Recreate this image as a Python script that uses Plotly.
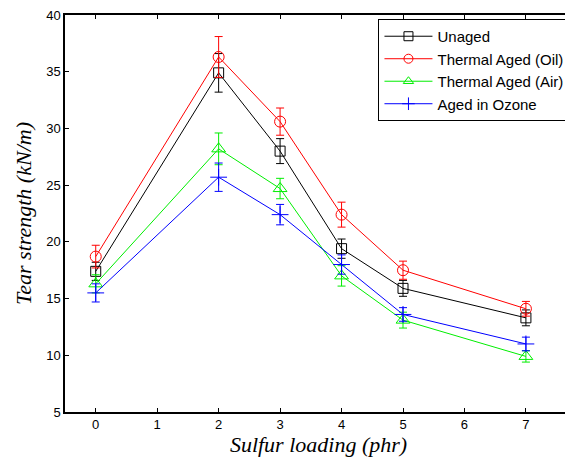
import plotly.graph_objects as go

sulfur = [0, 2, 3, 4, 5, 7]
unaged = [17.4, 34.9, 28.0, 19.4, 15.9, 13.3]
unaged_err = [0.8, 1.7, 1.1, 0.85, 0.7, 0.7]
oil = [18.7, 36.3, 30.6, 22.4, 17.5, 14.1]
oil_err = [1.0, 1.8, 1.2, 1.1, 0.8, 0.65]
air = [16.3, 28.2, 24.7, 17.0, 13.1, 9.9]
air_err = [0.8, 1.4, 0.9, 0.9, 0.7, 0.5]
ozone = [15.5, 25.7, 22.4, 18.0, 13.6, 11.0]
ozone_err = [0.8, 1.25, 0.9, 0.85, 0.6, 0.6]

series = [
    ("Unaged", unaged, unaged_err, "#000000", "square-open", 10),
    ("Thermal Aged (Oil)", oil, oil_err, "#ff0000", "circle-open", 11),
    ("Thermal Aged (Air)", air, air_err, "#00ee00", "triangle-up-open", 12),
    ("Aged in Ozone", ozone, ozone_err, "#0000ff", "cross-thin-open", 12),
]

fig = go.Figure()
for name, vals, errs, col, sym, sz in series:
    fig.add_trace(go.Scatter(
        x=sulfur, y=vals, name=name, mode="lines+markers", showlegend=False,
        line=dict(color=col, width=1),
        marker=dict(symbol=sym, size=sz, color=col, line=dict(color=col, width=1)),
        error_y=dict(type="data", array=errs, visible=True, color=col, thickness=1, width=4),
    ))
# legend entries (smaller markers, as in the reference legend)
for name, vals, errs, col, sym, sz in series:
    fig.add_trace(go.Scatter(
        x=[None], y=[None], name=name, mode="lines+markers",
        line=dict(color=col, width=1),
        marker=dict(symbol=sym, size=9, color=col, line=dict(color=col, width=1)),
    ))

axis_common = dict(
    showline=True, linecolor="black", linewidth=1.5, mirror="ticks",
    ticks="inside", ticklen=4, tickcolor="black", showgrid=False, zeroline=False,
    automargin=False, ticklabeloverflow="allow",
    tickfont=dict(family="Liberation Sans, Arial", size=13, color="black"),
)

# page body has an 8px margin, so the figure is offset by 8px; margins compensate
fig.update_layout(
    width=573, height=466,
    margin=dict(l=57, r=9, t=7, b=62),
    paper_bgcolor="white", plot_bgcolor="white",
    xaxis=dict(range=[-0.5, 7.75], tickvals=[0, 1, 2, 3, 4, 5, 6, 7],
               title=dict(text="Sulfur loading (phr)", standoff=0,
                          font=dict(family="Liberation Serif, Times New Roman", size=22, color="black", style="italic")),
               **axis_common),
    yaxis=dict(range=[5, 40], tickvals=[5, 10, 15, 20, 25, 30, 35, 40],
               title=dict(text="Tear strength (kN/m)", standoff=8,
                          font=dict(family="Liberation Serif, Times New Roman", size=22, color="black", style="italic")),
               **axis_common),
    legend=dict(x=0.995, y=0.99, xanchor="right", yanchor="top",
                bgcolor="white", bordercolor="black", borderwidth=1,
                font=dict(family="Liberation Sans, Arial", size=15, color="black"),
                tracegroupgap=0, itemwidth=48),
    showlegend=True,
)

fig.write_html("out.html")
